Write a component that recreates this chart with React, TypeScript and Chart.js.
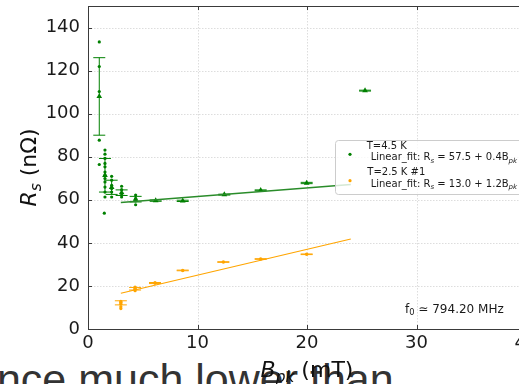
import React, { useEffect, useRef } from 'react';
import { Chart, registerables } from 'chart.js';
Chart.register(...registerables);

const X_TICKS = [0, 10, 20, 30, 40];
const Y_TICKS = [0, 20, 40, 60, 80, 100, 120, 140];

// T=4.5 K individual measurements
const G_DOT_X = [1.03, 1.03, 1.03, 1.03, 1.03,
  1.55, 1.55, 1.55, 1.55, 1.55, 1.55, 1.55, 1.55, 1.55, 1.55, 1.55, 1.55, 1.49,
  2.16, 2.16, 2.16, 2.16, 2.16, 2.16,
  3.07, 3.07, 3.07, 3.07,
  4.35, 4.35, 4.35, 4.35];
const G_DOT_Y = [133.3, 121.9, 110.3, 87.7, 76.4,
  83.1, 81.2, 79.2, 76.9, 75.3, 72.9, 71.4, 69.9, 68.3, 65.9, 63.6, 61.3, 53.8,
  70.9, 69.1, 66.7, 65.2, 63.6, 61.3,
  66.3, 64.7, 62.8, 61.3,
  62.2, 60.5, 59.5, 57.7];
// T=4.5 K means with error
const G_MEAN_X = [1.03, 1.55, 2.16, 3.07, 4.35, 6.18, 8.65, 12.45, 15.77, 19.97, 25.3];
const G_MEAN_Y = [108.0, 71.4, 65.8, 63.3, 60.3, 59.6, 59.5, 62.4, 64.4, 67.8, 110.7];
const G_MEAN_ERR = [18.0, 7.8, 3.3, 1.3, 1.3, 0.3, 0.3, 0.2, 0.2, 0.3, 0.2];

// T=2.5 K #1
const O_DOT_X = [3.0, 3.0, 3.0, 3.0, 4.3, 4.3, 4.3, 6.12];
const O_DOT_Y = [12.8, 11.5, 10.3, 9.5, 19.5, 18.5, 17.8, 21.4];
const O_MEAN_X = [3.0, 4.3, 6.12, 8.65, 12.36, 15.77, 19.97];
const O_MEAN_Y = [12.15, 18.7, 21.35, 27.2, 31.1, 32.5, 34.7];
const O_MEAN_ERR = [0.95, 0.6, 0.25, 0.15, 0.15, 0.15, 0.15];

// Linear fits (end points)
const FIT_X = [3, 24];
const G_FIT_Y = [58.7, 67.1];
const O_FIT_Y = [16.6, 41.8];

const GREEN = '#008000';
const GREEN_LINE = '#2a8c2a';
const ORANGE = '#ffa500';
const FONT = "'DejaVu Sans', sans-serif";

type Part = { t: string; sub?: boolean; it?: boolean };

function partFont(p: Part, size: number) {
  const s = p.sub ? size * 0.7 : size;
  return `${p.it ? 'italic ' : ''}${s}px ${FONT}`;
}
function measureParts(ctx: CanvasRenderingContext2D, parts: Part[], size: number) {
  let w = 0;
  for (const p of parts) {
    ctx.font = partFont(p, size);
    w += ctx.measureText(p.t).width;
  }
  return w;
}
function drawParts(ctx: CanvasRenderingContext2D, parts: Part[], x: number, y: number, size: number, color: string) {
  ctx.fillStyle = color;
  ctx.textBaseline = 'alphabetic';
  ctx.textAlign = 'left';
  let cx = x;
  for (const p of parts) {
    ctx.font = partFont(p, size);
    ctx.fillText(p.t, cx, p.sub ? y + size * 0.22 : y);
    cx += ctx.measureText(p.t).width;
  }
}

const pts = (xs: number[], ys: number[]) => xs.map((x, i) => ({ x, y: ys[i] }));

const gridPlugin = {
  id: 'mplGrid',
  beforeDatasetsDraw(chart: any) {
    const { ctx, chartArea } = chart;
    const xs = chart.scales.x, ys = chart.scales.y;
    ctx.save();
    ctx.strokeStyle = '#d4d4d4';
    ctx.lineWidth = 0.8;
    ctx.setLineDash([1.5, 1.5]);
    for (const v of X_TICKS) {
      const px = Math.round(xs.getPixelForValue(v)) + 0.5;
      ctx.beginPath(); ctx.moveTo(px, chartArea.top); ctx.lineTo(px, chartArea.bottom); ctx.stroke();
    }
    for (const v of Y_TICKS) {
      const py = Math.round(ys.getPixelForValue(v)) + 0.5;
      ctx.beginPath(); ctx.moveTo(chartArea.left, py); ctx.lineTo(chartArea.right, py); ctx.stroke();
    }
    ctx.restore();
  },
};

const errorBars = {
  id: 'errorBars',
  beforeDatasetsDraw(chart: any) {
    const ctx = chart.ctx;
    const xs = chart.scales.x, ys = chart.scales.y;
    chart.data.datasets.forEach((ds: any) => {
      if (!ds.errY) return;
      ctx.save();
      ctx.strokeStyle = ds.errColor;
      ctx.lineWidth = 1;
      ds.data.forEach((pt: any, i: number) => {
        const px = xs.getPixelForValue(pt.x);
        const y0 = ys.getPixelForValue(pt.y - ds.errY[i]);
        const y1 = ys.getPixelForValue(pt.y + ds.errY[i]);
        ctx.beginPath();
        ctx.moveTo(px, y0); ctx.lineTo(px, y1);
        ctx.moveTo(px - 6, y0); ctx.lineTo(px + 6, y0);
        ctx.moveTo(px - 6, y1); ctx.lineTo(px + 6, y1);
        ctx.stroke();
      });
      ctx.restore();
    });
  },
};

const framePlugin = {
  id: 'mplFrame',
  afterDatasetsDraw(chart: any) {
    const { ctx, chartArea } = chart;
    const { left, right, top, bottom } = chartArea;
    const xs = chart.scales.x, ys = chart.scales.y;
    ctx.save();
    ctx.strokeStyle = '#3a3a3a';
    ctx.lineWidth = 1;
    ctx.beginPath();
    ctx.moveTo(left + 0.5, top + 0.5); ctx.lineTo(left + 0.5, bottom + 0.5);
    ctx.lineTo(right - 0.5, bottom + 0.5); ctx.lineTo(right - 0.5, top + 0.5);
    ctx.closePath();
    ctx.stroke();
    ctx.beginPath();
    for (const v of X_TICKS) {
      const px = Math.round(xs.getPixelForValue(v)) + 0.5;
      ctx.moveTo(px, bottom); ctx.lineTo(px, bottom - 4);
      ctx.moveTo(px, top); ctx.lineTo(px, top + 4);
    }
    for (const v of Y_TICKS) {
      const py = Math.round(ys.getPixelForValue(v)) + 0.5;
      ctx.moveTo(left, py); ctx.lineTo(left + 4, py);
      ctx.moveTo(right, py); ctx.lineTo(right - 4, py);
    }
    ctx.stroke();
    ctx.restore();
  },
  afterDraw(chart: any) {
    const { ctx, chartArea } = chart;
    ctx.save();
    // legend
    const lx = 335.5, ly = 140.5, lw = 220, lh = 54, r = 3;
    ctx.beginPath();
    ctx.moveTo(lx + r, ly);
    ctx.lineTo(lx + lw - r, ly); ctx.arcTo(lx + lw, ly, lx + lw, ly + r, r);
    ctx.lineTo(lx + lw, ly + lh - r); ctx.arcTo(lx + lw, ly + lh, lx + lw - r, ly + lh, r);
    ctx.lineTo(lx + r, ly + lh); ctx.arcTo(lx, ly + lh, lx, ly + lh - r, r);
    ctx.lineTo(lx, ly + r); ctx.arcTo(lx, ly, lx + r, ly, r);
    ctx.closePath();
    ctx.fillStyle = 'rgba(255,255,255,0.8)';
    ctx.fill();
    ctx.strokeStyle = '#cccccc';
    ctx.lineWidth = 1;
    ctx.stroke();

    ctx.fillStyle = GREEN;
    ctx.beginPath(); ctx.arc(350, 154.3, 1.6, 0, Math.PI * 2); ctx.fill();
    ctx.fillStyle = ORANGE;
    ctx.beginPath(); ctx.arc(350, 180.7, 1.6, 0, Math.PI * 2); ctx.fill();

    const LS = 10;
    drawParts(ctx, [{ t: 'T=4.5 K' }], 366.7, 148.6, LS, '#1a1a1a');
    drawParts(ctx, [{ t: ' Linear_fit: R' }, { t: 's', sub: true, it: true }, { t: ' = 57.5 + 0.4B' }, { t: 'pk', sub: true, it: true }], 367.5, 160.3, LS, '#1a1a1a');
    drawParts(ctx, [{ t: 'T=2.5 K #1' }], 367.3, 175.3, LS, '#1a1a1a');
    drawParts(ctx, [{ t: ' Linear_fit: R' }, { t: 's', sub: true, it: true }, { t: ' = 13.0 + 1.2B' }, { t: 'pk', sub: true, it: true }], 367.5, 186.9, LS, '#1a1a1a');

    // frequency annotation
    drawParts(ctx, [{ t: 'f' }, { t: '0', sub: true }, { t: ' \u2243 794.20 MHz' }], 405, 312.6, 12, '#1a1a1a');

    // x title
    const xParts: Part[] = [{ t: 'B', it: true }, { t: 'pk', sub: true, it: true }, { t: ' (mT)' }];
    const TS = 22;
    const xw = measureParts(ctx, xParts, TS);
    const xc = (chartArea.left + chartArea.right) / 2;
    drawParts(ctx, xParts, xc - xw / 2, 377, TS, '#111');

    // y title
    const yParts: Part[] = [{ t: 'R', it: true }, { t: 's', sub: true, it: true }, { t: ' (n\u03A9)' }];
    const yw = measureParts(ctx, yParts, TS);
    const yc = (chartArea.top + chartArea.bottom) / 2;
    ctx.translate(36, yc);
    ctx.rotate(-Math.PI / 2);
    drawParts(ctx, yParts, -yw / 2, 0, TS, '#111');
    ctx.restore();
  },
};

export default function App() {
  const ref = useRef<HTMLCanvasElement>(null);
  useEffect(() => {
    const canvas = ref.current!;
    const tickFont = { family: 'DejaVu Sans', size: 18 };
    const chart = new Chart(canvas, {
      type: 'scatter',
      data: {
        datasets: [
          {
            label: 'T=4.5 K fit',
            data: pts(FIT_X, G_FIT_Y),
            showLine: true,
            borderColor: GREEN_LINE,
            borderWidth: 1.5,
            pointRadius: 0,
          } as any,
          {
            label: 'T=2.5 K fit',
            data: pts(FIT_X, O_FIT_Y),
            showLine: true,
            borderColor: ORANGE,
            borderWidth: 1.2,
            pointRadius: 0,
          } as any,
          {
            label: 'T=4.5 K',
            data: pts(G_DOT_X, G_DOT_Y),
            backgroundColor: GREEN,
            borderWidth: 0,
            pointRadius: 1.6,
          },
          {
            label: 'T=4.5 K mean',
            data: pts(G_MEAN_X, G_MEAN_Y),
            errY: G_MEAN_ERR,
            errColor: GREEN,
            backgroundColor: GREEN,
            borderColor: GREEN,
            borderWidth: 0,
            pointStyle: 'triangle',
            pointRadius: 3.3,
          } as any,
          {
            label: 'T=2.5 K #1',
            data: pts(O_DOT_X, O_DOT_Y),
            backgroundColor: ORANGE,
            borderWidth: 0,
            pointRadius: 1.6,
          },
          {
            label: 'T=2.5 K #1 mean',
            data: pts(O_MEAN_X, O_MEAN_Y),
            errY: O_MEAN_ERR,
            errColor: ORANGE,
            backgroundColor: ORANGE,
            borderWidth: 0,
            pointRadius: 1.8,
          } as any,
        ],
      },
      options: {
        responsive: false,
        animation: false,
        devicePixelRatio: 1,
        layout: { padding: { left: 0, top: 6, right: 34, bottom: 0 } },
        plugins: { legend: { display: false }, tooltip: { enabled: false } },
        scales: {
          x: {
            type: 'linear',
            position: 'bottom',
            min: 0,
            max: 40,
            afterBuildTicks: (s: any) => { s.ticks = X_TICKS.map((v) => ({ value: v })); },
            afterFit: (s: any) => { s.height = 55; s.paddingLeft = 0; s.paddingRight = 0; },
            grid: { display: false, drawTicks: false },
            border: { display: false },
            ticks: { padding: 4, color: '#1a1a1a', font: tickFont, maxRotation: 0, autoSkip: false },
          },
          y: {
            type: 'linear',
            min: 0,
            max: 150,
            afterBuildTicks: (s: any) => { s.ticks = Y_TICKS.map((v) => ({ value: v })); },
            afterFit: (s: any) => { s.width = 88; s.paddingTop = 0; s.paddingBottom = 0; },
            grid: { display: false, drawTicks: false },
            border: { display: false },
            ticks: { padding: 8, color: '#1a1a1a', font: tickFont },
          },
        },
      } as any,
      plugins: [gridPlugin, errorBars, framePlugin],
    });
    return () => chart.destroy();
  }, []);

  return (
    <div style={{ position: 'fixed', left: 0, top: 0, width: 519, height: 384, overflow: 'hidden', background: '#fff' }}>
      <div
        style={{
          position: 'absolute',
          left: -27,
          top: 358,
          fontFamily: "'Liberation Sans', Arial, sans-serif",
          fontSize: 43,
          lineHeight: '43px',
          color: '#333',
          whiteSpace: 'nowrap',
        }}
      >
        ence much lower than
      </div>
      <canvas ref={ref} width={560} height={384} style={{ position: 'absolute', left: 0, top: 0, width: 560, height: 384 }} />
    </div>
  );
}
